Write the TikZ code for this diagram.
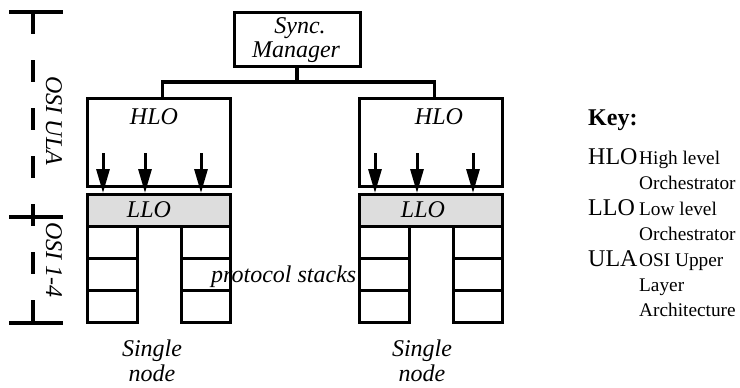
\documentclass[tikz,border=0pt]{standalone}
\usepackage{fontspec}
\setmainfont{Liberation Serif}
\usetikzlibrary{arrows.meta}
\definecolor{llogray}{RGB}{221,221,221}
\begin{document}
\begin{tikzpicture}[x=1pt,y=-1pt,
  box/.style={draw, line width=3pt, inner sep=0pt, outer sep=0pt},
  lbl/.style={font=\fontsize{24}{26}\selectfont\itshape, inner sep=0pt, align=center},
  keyk/.style={font=\fontsize{24}{25}\selectfont, anchor=base west, inner sep=0pt},
  keyd/.style={font=\fontsize{19.3}{25}\selectfont, anchor=base west, inner sep=0pt},
  downarrow/.style={line width=3pt, -{Triangle[length=24pt,width=13pt]}},
  link/.style={line width=3.2pt},
  bar/.style={line width=3.2pt},
  dashbar/.style={line width=3.2pt, dash pattern=on 22pt off 26pt},
]
\useasboundingbox (0,0) rectangle (740,388);

% scale bar on the left
\coordinate (t1) at (9,12);   \coordinate (t2) at (63,12);
\coordinate (m1) at (9,217);  \coordinate (m2) at (63,217);
\coordinate (b1) at (9,323);  \coordinate (b2) at (63,323);
\coordinate (vt) at (33,12);  \coordinate (vb) at (33,323);
\draw[bar] (t1) -- (t2);
\draw[bar] (m1) -- (m2);
\draw[bar] (b1) -- (b2);
\draw[dashbar] (vt) -- (vb);
\node[lbl, rotate=-90] (osiula) at (54,121) {OSI ULA};
\node[lbl, rotate=-90] (osi14) at (54,260) {OSI 1-4};

% sync manager
\node[box, minimum width=126pt, minimum height=54pt] (sync) at (297,39) {};
\node[lbl, anchor=base] (synct1) at (300,33) {Sync.};
\node[lbl, anchor=base] (synct2) at (296,57) {Manager};

% two single nodes
\foreach \ox/\n in {0/L,272/R} {
  \node[box, minimum width=143pt, minimum height=88pt] (hlo\n) at (158.5+\ox,142) {};
  \node[box, fill=llogray, minimum width=143pt, minimum height=32pt] (llo\n) at (158.5+\ox,210) {};
  \foreach \r/\cy in {1/242.2,2/274.5,3/306.8} {
    \node[box, minimum width=50pt, minimum height=32.33pt] (c\n a\r) at (112+\ox,\cy) {};
    \node[box, minimum width=49pt, minimum height=32.33pt] (c\n b\r) at (205.5+\ox,\cy) {};
  }
  \foreach \dx in {16,58,114} {
    \draw[downarrow] ([xshift=\dx pt,yshift=-55pt]hlo\n.north west) -- ([xshift=\dx pt,yshift=1pt]llo\n.north west);
  }
}

% labels in the nodes
\node[lbl, anchor=base] (hlotL) at (154,124) {HLO};
\node[lbl, anchor=base] (hlotR) at (439,124) {HLO};
\node[lbl, anchor=base] (llotL) at (149,217) {LLO};
\node[lbl, anchor=base] (llotR) at (423,217) {LLO};
\node[lbl, anchor=base west] (proto) at (211,282) {protocol stacks};
\node[lbl, anchor=base] (singleL1) at (152,356) {Single};
\node[lbl, anchor=base] (singleL2) at (152,381) {node};
\node[lbl, anchor=base] (singleR1) at (422,356) {Single};
\node[lbl, anchor=base] (singleR2) at (422,381) {node};

% connectors from the sync manager
\coordinate (bus) at (0,82);
\draw[link] (sync.south) -- (sync.south |- bus);
\draw[link] ([xshift=4pt]hloL.north) |- (sync.south |- bus) -| ([xshift=4pt]hloR.north);

% key
\node[keyk, font=\fontsize{24}{25}\selectfont\bfseries] (key) at (588,125) {Key:};
\node[keyk] (khlo) at (588,164) {HLO};
\node[keyd] (dhlo1) at (639,164) {High level};
\node[keyd] (dhlo2) at (639,189) {Orchestrator};
\node[keyk] (kllo) at (588,215) {LLO};
\node[keyd] (dllo1) at (639,215) {Low level};
\node[keyd] (dllo2) at (639,240) {Orchestrator};
\node[keyk] (kula) at (588,266) {ULA};
\node[keyd] (dula1) at (639,266) {OSI Upper};
\node[keyd] (dula2) at (639,291) {Layer};
\node[keyd] (dula3) at (639,316) {Architecture};
\end{tikzpicture}
\end{document}
